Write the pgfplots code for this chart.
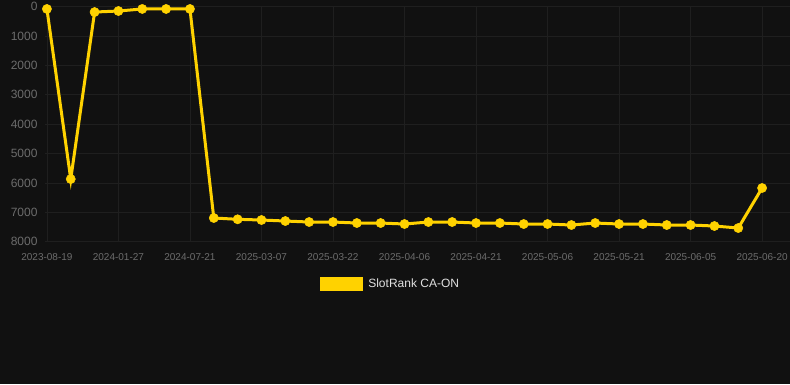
\documentclass[border=0pt]{standalone}
\usepackage{pgfplots}
\pgfplotsset{compat=1.18}
\usepackage{fontspec}
\setmainfont{Liberation Sans}
\definecolor{bg}{HTML}{111111}
\definecolor{gridc}{HTML}{1F1F1F}
\definecolor{tickc}{HTML}{6C6C6C}
\definecolor{gold}{HTML}{FFD200}
\definecolor{legc}{HTML}{E0E0E0}
\pgfplotstableread{
x y
0 80
1 5865
2 185
3 150
4 80
5 80
6 80
7 7190
8 7235
9 7259
10 7293
11 7327
12 7327
13 7361
14 7361
15 7395
16 7327
17 7327
18 7361
19 7361
20 7395
21 7395
22 7429
23 7361
24 7395
25 7395
26 7429
27 7429
28 7463
29 7531
30 6170
}\ranktable
\begin{document}
\begin{tikzpicture}[x=1pt,y=1pt]
\fill[bg] (0,0) rectangle (790,384);
\begin{axis}[
 at={(45pt,142.2pt)}, anchor=south west,
 scale only axis, width=745pt, height=235.2pt,
 xmin=-0.08, xmax=31.17, ymin=0, ymax=8000, y dir=reverse,
 xtick={0,3,...,30},
 xticklabels={2023-08-19,2024-01-27,2024-07-21,2025-03-07,2025-03-22,2025-04-06,2025-04-21,2025-05-06,2025-05-21,2025-06-05,2025-06-20},
 ytick={0,1000,...,8000},
 grid=major, major grid style={gridc, line width=0.8pt},
 axis line style={draw=none},
 major tick length=0pt, tick style={draw=none},
 /pgf/number format/assume math mode=true,
 /pgf/number format/set thousands separator={},
 ticklabel style={text=tickc},
 xticklabel style={font=\fontsize{10}{12}\selectfont, yshift=-8pt},
 yticklabel style={font=\fontsize{12}{14}\selectfont, xshift=-4pt},
 clip=false,
 legend style={at={(0.466,-0.1786)}, anchor=center, draw=none, fill=none, text=legc, font=\fontsize{12}{14}\selectfont, nodes={inner xsep=5pt}},
 legend image code/.code={\fill[gold] (0pt,-5.5pt) rectangle (40pt,5.5pt);},
]
\addplot[gold, line width=3pt, mark=*, mark size=4.6pt, mark options={solid, fill=gold, draw=gold, line width=0.5pt}] table[x=x,y=y] {\ranktable};
\addlegendentry{SlotRank CA-ON}
\end{axis}
\pgfresetboundingbox
\useasboundingbox (0,0) rectangle (790,384);
\end{tikzpicture}
\end{document}
